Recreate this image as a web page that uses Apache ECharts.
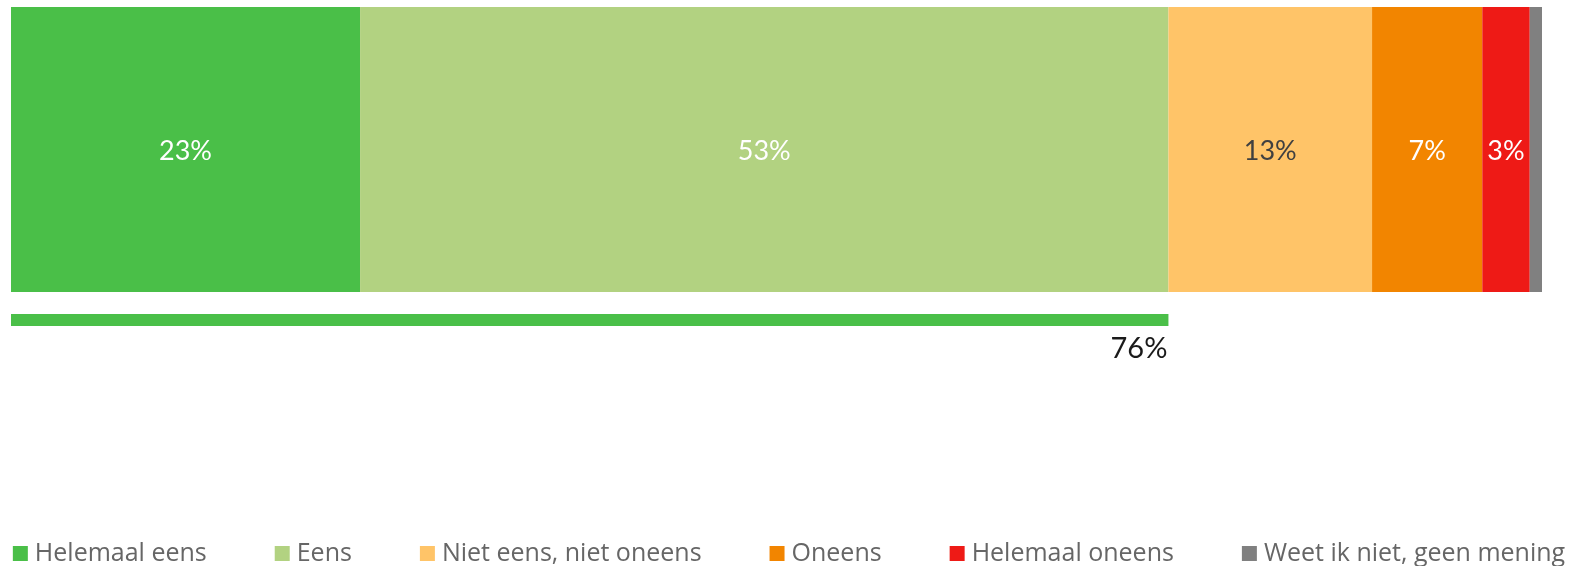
<!DOCTYPE html>
<html><head><meta charset="utf-8">
<script src="https://cdn.jsdelivr.net/npm/echarts@6/dist/echarts.min.js"></script>
<style>html,body{margin:0;padding:0;background:#fff}#c{width:1578px;height:566px}</style>
</head><body><div id="c"></div>
<script>
var categories = ['Helemaal eens','Eens','Niet eens, niet oneens','Oneens','Helemaal oneens','Weet ik niet, geen mening'];
var values = [22.8, 52.8, 13.3, 7.2, 3.1, 0.9];
var colors = ['#4ABF48','#B2D281','#FFC468','#F28500','#EE1A16','#808080'];
var labelColors = ['#ffffff','#ffffff','#404040','#ffffff','#ffffff','#ffffff'];
var agreeTotal = [75.6];
var agreeLabel = ['76%'];

var FONT = 'Lato';
var series = categories.map(function(name, i){
  return {
    name: name, type: 'bar', stack: 'total', xAxisIndex: 0, yAxisIndex: 0,
    barWidth: '100%', data: [values[i]],
    itemStyle: {color: colors[i]},
    label: {show: values[i] >= 2, position: 'inside', offset: [0, 2], color: labelColors[i], fontFamily: FONT, fontSize: 27,
      formatter: function(p){ return Math.round(p.value) + '%'; }}
  };
});
series.push({
  name: 'agree', type: 'bar', xAxisIndex: 1, yAxisIndex: 1, barWidth: '100%',
  data: agreeTotal, itemStyle: {color: '#4ABF48'},
  label: {show: true, position: ['100%','100%'], align: 'right', verticalAlign: 'top', offset: [-1, 8],
    color: '#1a1a1a', fontFamily: FONT, fontSize: 29, formatter: function(){ return agreeLabel[0]; }}
});

var chart = echarts.init(document.getElementById('c'));
chart.setOption({
  animation: false,
  legend: {
    data: categories, top: 536, left: 'center', itemWidth: 15, itemHeight: 15, itemGap: 68,
    icon: 'rect',
    textStyle: {color: '#666666', fontFamily: 'Open Sans', fontSize: 25, padding: [0,0,0,2]}
  },
  grid: [
    {left: 11, top: 7, width: 1531, height: 285},
    {left: 11, top: 314, width: 1531, height: 12}
  ],
  xAxis: [
    {gridIndex: 0, type: 'value', min: 0, max: 100, show: false},
    {gridIndex: 1, type: 'value', min: 0, max: 100, show: false}
  ],
  yAxis: [
    {gridIndex: 0, type: 'category', data: ['q'], show: false},
    {gridIndex: 1, type: 'category', data: ['q'], show: false}
  ],
  series: series
});
</script></body></html>
